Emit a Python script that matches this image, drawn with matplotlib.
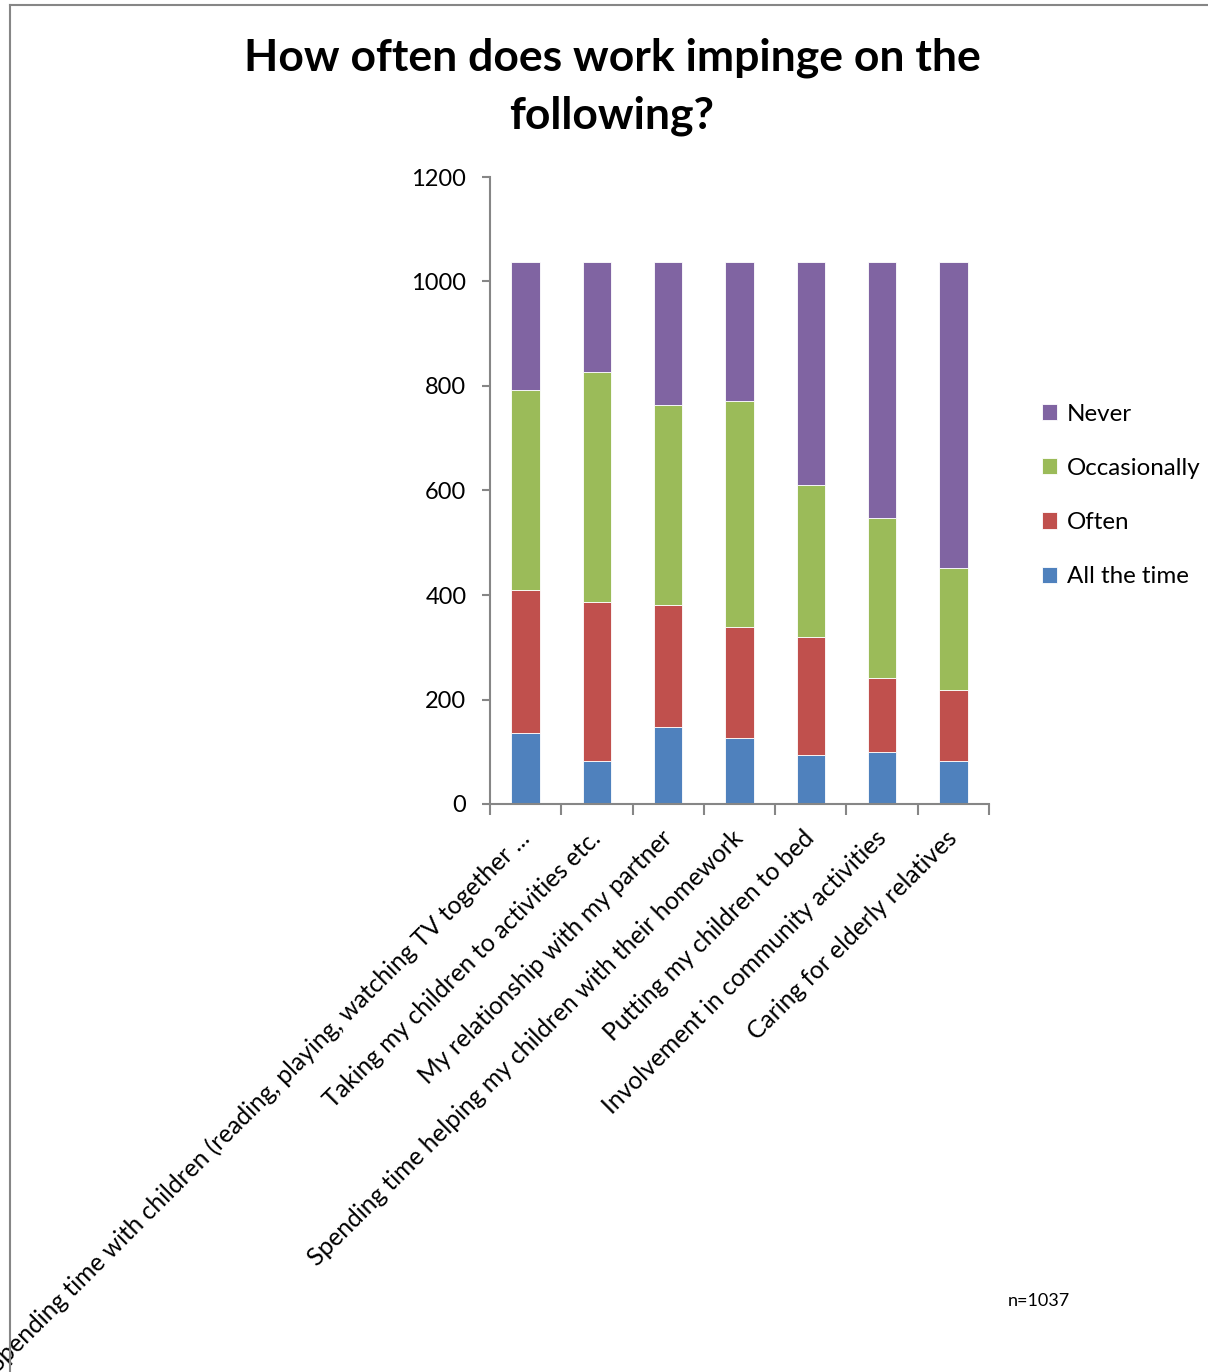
import matplotlib
matplotlib.use("Agg")
import matplotlib.pyplot as plt
from matplotlib.lines import Line2D
import numpy as np

categories = [
    "Spending time with children (reading, playing, watching TV together ...",
    "Taking my children to activities etc.",
    "My relationship with my partner",
    "Spending time helping my children with their homework",
    "Putting my children to bed",
    "Involvement in community activities",
    "Caring for elderly relatives",
]
all_the_time = [135, 82, 147, 126, 93, 100, 82]
often = [275, 305, 233, 213, 227, 141, 137]
occasionally = [383, 440, 384, 432, 290, 306, 233]
never = [244, 210, 273, 266, 427, 490, 585]
series_names = ["All the time", "Often", "Occasionally", "Never"]
colors = ["#4F81BD", "#C0504D", "#9BBB59", "#8064A2"]
yticks = [0, 200, 400, 600, 800, 1000, 1200]

plt.rcParams['font.family'] = ['Lato', 'DejaVu Sans']

fig = plt.figure(figsize=(12.08, 13.72), dpi=100)
ax = fig.add_axes([490/1208, 1-804/1372, 499/1208, 627/1372])

x = np.arange(len(categories))
bottom = np.zeros(len(categories))
handles = []
for name, vals, c in zip(series_names, [all_the_time, often, occasionally, never], colors):
    b = ax.bar(x, vals, 0.4, bottom=bottom, color=c, edgecolor='white', linewidth=0.6, label=name)
    handles.append(b)
    bottom += np.array(vals)

ax.set_xlim(-0.5, len(categories) - 0.5)
ax.set_ylim(0, 1200)
ax.set_yticks(yticks)
ax.set_yticklabels([str(v) for v in yticks], fontsize=17)
for s in ['top', 'right']:
    ax.spines[s].set_visible(False)
for s in ['left', 'bottom']:
    ax.spines[s].set_color('#868686')
    ax.spines[s].set_linewidth(1.5)
ax.tick_params(axis='y', direction='out', length=6, color='#868686', width=1.5, pad=11)

# category boundary ticks
ax.set_xticks(np.arange(-0.5, len(categories), 1.0))
ax.set_xticklabels([])
ax.tick_params(axis='x', direction='out', length=8, color='#868686', width=1.5)
ax.set_xticks(x, minor=True)
ax.set_xticklabels(categories, minor=True, rotation=45, ha='right', va='center',
                   rotation_mode='anchor', fontsize=17.7)
ax.tick_params(axis='x', which='minor', length=0, pad=22)

fig.text(612/1208, 1-87/1372, "How often does work impinge on the\nfollowing?",
         ha='center', va='center', fontsize=32, fontweight='bold', linespacing=1.52)

leg = fig.legend(handles[::-1], series_names[::-1], loc='upper left',
                 bbox_to_anchor=(1020/1208, 1-382/1372), frameon=False, fontsize=17.4,
                 handlelength=0.65, handleheight=0.65, handletextpad=0.4, labelspacing=1.37)

fig.text(1008/1208, 1-1301/1372, "n=1037", ha='left', va='center', fontsize=13)

fig.add_artist(Line2D([10/1208, 1.0], [1-5/1372, 1-5/1372], transform=fig.transFigure,
                      color='#868686', linewidth=1.5))
fig.add_artist(Line2D([10/1208, 10/1208], [1-5/1372, 0], transform=fig.transFigure,
                      color='#868686', linewidth=1.5))

fig.savefig("out.png", dpi=100)
